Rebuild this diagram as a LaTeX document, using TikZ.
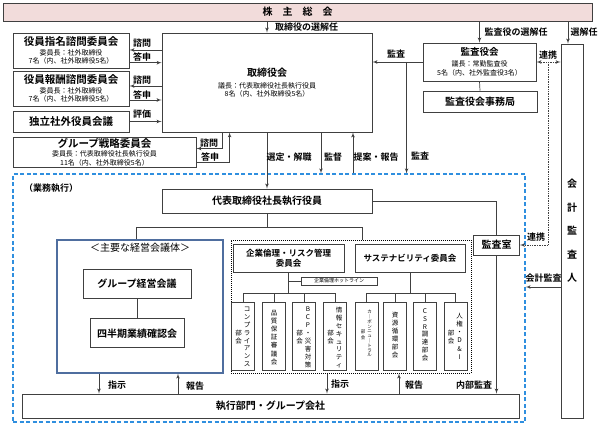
\documentclass[tikz,border=0pt]{standalone}
\usepackage{fontspec}
\setmainfont{Noto Sans CJK JP}[BoldFont={Noto Sans CJK JP Bold}]
\usetikzlibrary{arrows,positioning}

\definecolor{agmpink}{HTML}{F2DCDB}
\definecolor{execblue}{HTML}{2F8FDF}
\definecolor{meetblue}{HTML}{4F6E9F}
\definecolor{edge}{HTML}{404040}

\tikzstyle{block} = [rectangle, draw=edge, line width=0.8pt, fill=white,
    align=center, inner sep=0pt, font=\bfseries\fontsize{10}{12}\selectfont]
\tikzstyle{panel} = [block, font=\fontsize{7}{8.5}\selectfont]
\tikzstyle{vbox} = [rectangle, draw=edge, line width=0.8pt,
    minimum width=23pt, minimum height=68pt, inner sep=0pt]
\tikzstyle{vtext} = [inner sep=0pt, align=center, anchor=north]
\tikzstyle{tag} = [inner sep=0pt, font=\bfseries\fontsize{9}{10}\selectfont]
\tikzstyle{plain} = [draw=edge, line width=0.7pt]
\tikzstyle{line} = [draw=edge, line width=0.7pt, -latex']
\tikzstyle{link} = [draw=edge, line width=0.7pt, densely dotted]
\tikzset{
  boxsize/.style 2 args={minimum width=#1pt, minimum height=#2pt}
}

\begin{document}
\begin{tikzpicture}[x=1pt, y=-1pt]
   \useasboundingbox (0,0) rectangle (600,425);

   % shareholders and board
   \node [block, fill=agmpink, boxsize={589}{18}] (agm) at (297.5,12) {株　主　総　会};
   \node [panel, boxsize={210}{99}] (board) at (267,82.5) {{\bfseries\fontsize{10}{12}\selectfont 取締役会}\\[3.5pt]議長：代表取締役社長執行役員\\8名（内、社外取締役5名）};
   \node [panel, boxsize={116}{35}] (nomi) at (71,50.5) {{\bfseries\fontsize{10.5}{12}\selectfont 役員指名諮問委員会}\\[1.5pt]委員長：社外取締役\\7名（内、社外取締役5名）};
   \node [panel, boxsize={116}{35}] (remu) at (71,88.5) {{\bfseries\fontsize{10.5}{12}\selectfont 役員報酬諮問委員会}\\[1.5pt]委員長：社外取締役\\7名（内、社外取締役5名）};
   \node [block, boxsize={116}{21}, font=\bfseries\fontsize{10.5}{12}\selectfont] (indep) at (71,121.5) {独立社外役員会議};
   \node [panel, boxsize={183}{30}] (strat) at (104.5,152) {{\bfseries\fontsize{10.5}{12}\selectfont グループ戦略委員会}\\[1pt]委員長：代表取締役社長執行役員\\11名（内、社外取締役5名）};

   % auditors
   \node [panel, boxsize={113}{38}] (kansa) at (479.5,62) {{\bfseries\fontsize{9.5}{11}\selectfont 監査役会}\\[2.5pt]議長：常勤監査役\\5名（内、社外監査役3名）};
   \node [block, boxsize={114}{21}] (kjim) at (480,101.5) {監査役会事務局};
   \node [block, boxsize={22}{374}, font=\bfseries\fontsize{10}{23.5}\selectfont] (auditor) at (572,231) {会\\計\\監\\査\\人};

   % execution area
   \node [draw=execblue, dashed, dash pattern=on 4pt off 2.5pt, line width=1.2pt, boxsize={512}{248}] (exec_area) at (269,298) {};
   \node [tag] (exec_title) at (51,188) {（業務執行）};
   \node [block, boxsize={210}{24}] (ceo) at (267,201) {代表取締役社長執行役員};
   \node [block, boxsize={46}{20}] (audit_room) at (496.5,245) {監査室};
   \node [block, boxsize={497}{24}] (exec_dept) at (270.5,406) {執行部門・グループ会社};

   \node [draw=meetblue, line width=1.2pt, boxsize={166}{133}] (main_frame) at (140,306.5) {};
   \node [anchor=north, inner sep=0pt, font=\fontsize{10}{12}\selectfont] (main_title) at ([yshift=-3pt]main_frame.north) {＜主要な経営会議体＞};
   \node [block, boxsize={108}{29}] (gmeet) at (137,283.5) {グループ経営会議};
   \node [block, boxsize={94}{29}, below=20pt of gmeet] (qmeet) {四半期業績確認会};

   \node [draw=black, densely dotted, line width=1pt, boxsize={240}{133}] (risk_frame) at (351,306.5) {};
   \node [block, boxsize={111}{28}, font=\bfseries\fontsize{8.5}{10}\selectfont] (risk) at (288.5,258) {企業倫理・リスク管理\\委員会};
   \node [block, boxsize={110}{28}, font=\bfseries\fontsize{8.5}{10}\selectfont] (sust) at (410,258) {サステナビリティ委員会};
   \node [block, boxsize={76}{8}, font=\fontsize{5}{6}\selectfont] (hotline) at (339,281) {企業倫理ホットライン};

   \foreach \nm/\xx in {s1/243, s2/274, s3/304, s4/335, s5/366.5, s6/395, s7/425, s8/455.5}
      \node [vbox] (\nm) at (\xx,336) {};

   % vertical texts of the sub committees
   \node [vtext, font=\fontsize{6.5}{7.9}\selectfont] (s1r) at (247,306.8) {コ\\ン\\プ\\ラ\\イ\\ア\\ン\\ス};
   \node [vtext, font=\fontsize{6.5}{8.5}\selectfont] (s1l) at (238.5,329.8) {部\\会};
   \node [vtext, font=\fontsize{6.5}{8.2}\selectfont] (s2t) at (274,309.8) {品\\質\\保\\証\\審\\議\\会};
   \node [vtext, font=\fontsize{6.5}{8}\selectfont] (s3r) at (308,306.8) {B\\C\\P\\・\\災\\害\\対\\策};
   \node [vtext, font=\fontsize{6.5}{8.5}\selectfont] (s3l) at (299.5,329.8) {部\\会};
   \node [vtext, font=\fontsize{6.5}{7.9}\selectfont] (s4r) at (339,306.8) {情\\報\\セ\\キ\\ュ\\リ\\テ\\ィ};
   \node [vtext, font=\fontsize{6.5}{8.5}\selectfont] (s4l) at (330.5,329.8) {部\\会};
   \node [vtext, font=\fontsize{4.5}{4.8}\selectfont] (s5r) at (369.5,310) {カ\\｜\\ボ\\ン\\ニ\\ュ\\｜\\ト\\ラ\\ル};
   \node [vtext, font=\fontsize{4.5}{5.5}\selectfont] (s5l) at (363,330) {部\\会};
   \node [vtext, font=\fontsize{6.5}{8}\selectfont] (s6t) at (395,311.8) {資\\源\\循\\環\\部\\会};
   \node [vtext, font=\fontsize{6.5}{7.7}\selectfont] (s7t) at (425,308.8) {C\\S\\R\\調\\達\\部\\会};
   \node [vtext, font=\fontsize{6.5}{8.2}\selectfont] (s8r) at (459.5,312.8) {人\\権\\・\\D\\\&\\I};
   \node [vtext, font=\fontsize{6.5}{8.5}\selectfont] (s8l) at (451,329.8) {部\\会};

   % board connectors
   \path [line] (agm.south -| board.north) -- (board.north);
   \node [tag] (l_elect) at (306.5,27) {取締役の選解任};
   \coordinate (nomi_q) at ([yshift=0.5pt]nomi.east);
   \coordinate (nomi_a) at ([yshift=-12.2pt]nomi.east);
   \coordinate (remu_q) at ([yshift=2.5pt]remu.east);
   \coordinate (remu_a) at ([yshift=-11.5pt]remu.east);
   \path [line] (nomi_q -| board.west) -- (nomi_q);
   \path [line] (nomi_a) -- (nomi_a -| board.west);
   \path [line] (remu_q -| board.west) -- (remu_q);
   \path [line] (remu_a) -- (remu_a -| board.west);
   \path [line] (indep.east) -- (indep.east -| board.west);
   \node [tag] (l_q1) at (142,43) {諮問};
   \node [tag] (l_a1) at (142,57) {答申};
   \node [tag] (l_q2) at (142,80) {諮問};
   \node [tag] (l_a2) at (142,95) {答申};
   \node [tag] (l_eval) at (142,114) {評価};
   \path [line] ([xshift=61pt]board.south west) |- ([yshift=3.5pt]strat.east);
   \path [line] ([yshift=-10pt]strat.east) -| ([xshift=68pt]board.south west);
   \node [tag] (l_q3) at (209,143) {諮問};
   \node [tag] (l_a3) at (210,157) {答申};

   \path [line] (board.south) -- (ceo.north);
   \node [tag] (l_appoint) at (289,157) {選定・解職};
   \coordinate (kantoku) at ([xshift=54pt]board.south);
   \coordinate (teian) at ([xshift=86pt]board.south);
   \path [line] (kantoku) -- (kantoku |- exec_area.north);
   \path [line] (teian |- exec_area.north) -- (teian);
   \node [tag] (l_super) at (333,157) {監督};
   \node [tag] (l_report) at (376,157) {提案・報告};

   % auditor connectors
   \path [line] (agm.south -| kansa.north) -- (kansa.north);
   \node [tag] (l_kelect) at (516,32) {監査役の選解任};
   \path [plain] (kansa.south) -- (kjim.north);
   \path [line] (kansa.west) -- (kansa.west -| board.east);
   \node [tag] (l_audit1) at (396,54) {監査};
   \coordinate (kdrop) at ([xshift=-16pt]kansa.west);
   \path [line] (kdrop) -- (kdrop |- exec_area.north);
   \node [tag] (l_audit2) at (420,156) {監査};
   \coordinate (aud_top) at ([xshift=-4pt]auditor.north);
   \path [line] (agm.south -| aud_top) -- (aud_top);
   \node [tag] (l_aelect) at (584,32) {選解任};
   \path [link, latex'-latex'] (kansa.east) -- (kansa.east -| auditor.west);
   \node [tag] (l_link1) at (548,55) {連携};
   \coordinate (link_v) at ([xshift=12pt]kansa.east);
   \path [link, -latex'] (link_v) |- (audit_room.east);
   \node [tag] (l_link2) at (536,237) {連携};
   \coordinate (acct) at ([yshift=-56pt]auditor.west);
   \path [line] (acct) -- (acct -| exec_area.east);
   \node [tag] (l_acct) at (543.5,278) {会計監査};

   % execution tree
   \coordinate (fork) at ([yshift=-14pt]ceo.south);
   \path [plain] (ceo.south) -- (fork);
   \path [plain] ([xshift=-4pt]main_frame.north) |- (fork) -| ([xshift=11pt]risk_frame.north);
   \path [plain] (ceo.east) -| (audit_room.north);
   \path [line] (audit_room.south) -- (audit_room.south |- exec_dept.north);
   \node [tag] (l_internal) at (474,385) {内部監査};
   \path [plain] (gmeet.south) -- (gmeet.south |- qmeet.north);

   \coordinate (risk_bus) at ([yshift=-21pt]risk.south);
   \coordinate (sust_bus) at ([yshift=-21pt]sust.south);
   \path [plain] (risk.south) -- (risk_bus);
   \path [plain] (sust.south) -- (sust_bus);
   \path [plain] (risk.south |- hotline.west) -- (hotline.west);
   \path [plain] (s1.north) |- (risk_bus) -| (s4.north);
   \path [plain] (s5.north) |- (sust_bus) -| (s8.north);
   \foreach \nm in {s2,s3}
      \path [plain] (\nm.north) -- (\nm.north |- risk_bus);
   \foreach \nm in {s6,s7}
      \path [plain] (\nm.north) -- (\nm.north |- sust_bus);

   % instructions and reports
   \coordinate (m_order) at ([xshift=-41pt]main_frame.south);
   \coordinate (m_report) at ([xshift=38pt]main_frame.south);
   \coordinate (r_order) at ([xshift=-24pt]risk_frame.south);
   \coordinate (r_report) at ([xshift=48pt]risk_frame.south);
   \path [line] (m_order) -- (m_order |- exec_dept.north);
   \path [line] (m_report |- exec_dept.north) -- (m_report);
   \path [line] (r_order) -- (r_order |- exec_dept.north);
   \path [line] (r_report |- exec_dept.north) -- (r_report);
   \node [tag] (l_ord1) at (117,385) {指示};
   \node [tag] (l_rep1) at (195,386) {報告};
   \node [tag] (l_ord2) at (340,384) {指示};
   \node [tag] (l_rep2) at (414,385) {報告};
\end{tikzpicture}
\end{document}
